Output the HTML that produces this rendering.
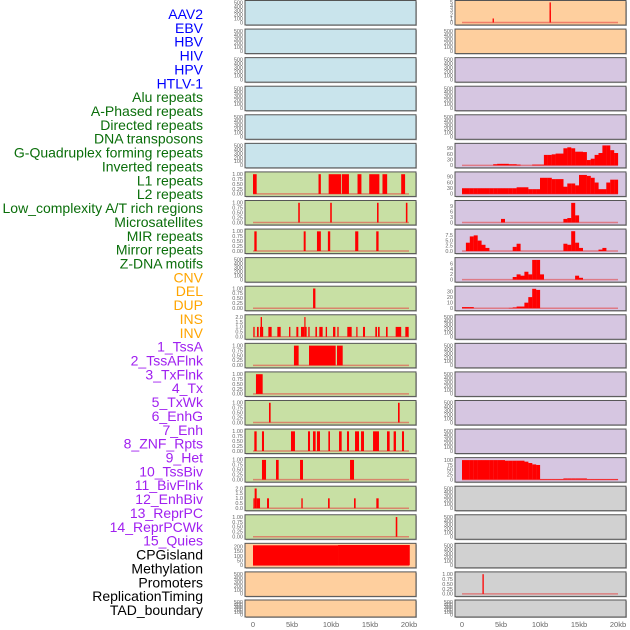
<!DOCTYPE html>
<html><head><meta charset="utf-8"><style>
html,body{margin:0;padding:0;background:#fff;}
svg{display:block;font-family:"Liberation Sans",sans-serif;}
</style></head><body>
<svg id="chart" width="630" height="630" viewBox="0 0 630 630" xmlns="http://www.w3.org/2000/svg"></svg>
<script>
// ---- labels ----
const trackLabels = ["AAV2","EBV","HBV","HIV","HPV","HTLV-1","Alu repeats","A-Phased repeats","Directed repeats","DNA transposons","G-Quadruplex forming repeats","Inverted repeats","L1 repeats","L2 repeats","Low_complexity A/T rich regions","Microsatellites","MIR repeats","Mirror repeats","Z-DNA motifs","CNV","DEL","DUP","INS","INV","1_TssA","2_TssAFlnk","3_TxFlnk","4_Tx","5_TxWk","6_EnhG","7_Enh","8_ZNF_Rpts","9_Het","10_TssBiv","11_BivFlnk","12_EnhBiv","13_ReprPC","14_ReprPCWk","15_Quies","CPGisland","Methylation","Promoters","ReplicationTiming","TAD_boundary"];
const labelGroups = [6,13,5,15,5];
const groupColors = ["#0000ff","#0a6e0a","#ffa500","#a020f0","#000000"];
// ---- panel backgrounds ----
const leftBg = ["b","b","b","b","b","b","g","g","g","g","g","g","g","g","g","g","g","g","g","p","p","p"];
const rightBg = ["p","p","l","l","l","l","l","l","l","l","l","l","l","l","l","l","l","y","y","y","y","y"];
const xTicks = [0,5,10,15,20];
const xTickLabels = ["0","5kb","10kb","15kb","20kb"];
// ---- left interval tracks [startKb,endKb,value] ----
const L6 = [[0,0.47,1],[8.4,8.7,1],[9.7,11.3,1],[11.4,12.3,1],[13.4,13.9,1],[14.9,16.2,1],[16.6,17.2,1],[19,19.5,1]];
const L7 = [[5.8,6.0,1],[9.9,10.1,1],[15.9,16.1,1],[19.6,19.8,1]];
const L8 = [[0.17,0.47,1],[6.5,6.75,1],[8.2,8.7,1],[9.6,9.9,1],[13.1,13.5,1],[15.8,16.1,1]];
const L10 = [[7.7,8.0,1]];
const L11 = [[0.04,0.21,1],[0.51,0.73,1],[0.9,0.98,1],[0.98,1.15,2],[1.15,1.2,1],[1.97,2.39,1],[3.12,3.55,1],[4.62,4.79,1],[5.56,5.81,1],[6.15,6.58,1],[6.58,6.71,2],[6.71,6.88,1],[7.09,7.26,1],[8.0,8.2,1],[8.5,8.93,1],[9.32,9.49,1],[10.26,10.56,1],[10.81,10.98,1],[12.09,12.65,1],[13.24,13.4,1],[14.1,14.36,1],[15.68,15.9,1],[16.03,16.24,1],[17.05,17.26,1],[18.29,19.0,1],[19.53,19.96,1]];
const L12 = [[5.25,5.85,1],[7.18,10.6,1],[10.77,11.5,1]];
const L13 = [[0.38,1.24,1]];
const L14 = [[2.05,2.26,1],[18.59,18.8,1]];
const L15 = [[0.17,0.47,1],[1.15,1.41,1],[4.87,5.38,1],[7.05,7.31,1],[7.69,8.03,1],[8.2,8.59,1],[9.66,9.87,1],[11.03,11.37,1],[12.05,12.31,1],[13.08,13.59,1],[13.85,14.23,1],[15.39,16.15,1],[17.18,17.52,1],[18.03,18.33,1],[19.1,19.36,1]];
const L16 = [[1.15,1.67,1],[2.95,3.29,1],[6.03,6.41,1],[12.44,12.95,1]];
const L17 = [[0.21,0.47,2],[0.05,0.21,1],[0.47,0.9,1],[1.8,2.05,1],[6.2,6.37,1],[9.62,9.83,1],[12.95,13.16,1],[15.81,16.11,1]];
const L18 = [[18.3,18.5,1]];
const L19 = [[0,10.9,215],[10.9,20.1,218]];
// ---- right histogram tracks (0.5kb bins) ----
const R5 = [0,0,0,0,0,0,0,0,6,8,8,8,6,6,4,0,0,0,4,4,4,55,55,58,62,62,90,95,90,72,72,70,28,35,55,65,105,105,80,65];
const R6 = [30,30,30,30,30,30,30,30,30,30,30,30,30,30,35,35,35,25,25,25,85,85,85,78,78,78,38,55,55,45,100,100,95,85,60,25,25,60,75,75];
const R7 = [0,0,0,0,0,0,0,0,0,0,2,0,0,0,0,0,0,0,0,0,0,0,0,0,0,0,2,2.5,11,4,0,0,0,0,0,0,0,0,0,0];
const R8 = [0,4,7,7.5,5,3,1.5,0,0,0,0,0,0,2,3.5,0,0,0,0,0,0,0,0,0,0,0,3.5,3,9.5,4,1.5,0,0,0,0,0.7,1.5,0,0,0];
const R9 = [0,0,0,0,0,0,0,0,0,0,0,0,0,1,2,1.5,3,2,7.5,7.5,2,0,0,0,0,0,0,0,0,1.5,0.7,0,0,0,0,0,0,0,0,0];
const R10 = [2,2,2,0,0,0,0,0,0,0,0,0,0.5,1.5,3,3,10,20,35,33,0,0,0,0,0,0,0,0,0,0,0,0,0,0,0,0,0,0,0,0];
const R16 = [100,100,100,100,100,100,100,100,100,100,100,97,97,97,97,97,92,85,78,75,3,3,3,3,3,3,6,6,6,6,6,6,3,3,3,3,3,3,3,3];
// spikes [kb,value]
const R0 = [[4.0,1],[11.3,5],[11.3,3]];
const R20 = [[2.7,1]];

const svg = document.getElementById('chart');
const NS = "http://www.w3.org/2000/svg";
function mk(tag, attrs, parent){
  const e = document.createElementNS(NS, tag);
  for (const k in attrs) e.setAttribute(k, attrs[k]);
  (parent||svg).appendChild(e);
  return e;
}
const bgColors = {b:"#c9e4ec", g:"#c8e0a4", p:"#fecf9e", l:"#d6c6e1", y:"#d1d1d1"};
const PL = {x0:245, x1:416, k0:253};
const PR = {x0:455, x1:626, k0:462};
const KB = 7.8;
function rowTop(i){ return i===21 ? 600 : 0.5 + i*28.57; }
function rowH(i){ return i===21 ? 17 : 24.5; }
function xs(p, kb){ return p.k0 + kb*KB; }
function ys(i, v, ymax){ const t=rowTop(i), h=rowH(i); return t+h-2.5 - v/ymax*(h-4); }

// labels
let li = 0;
labelGroups.forEach((n,g)=>{
  for (let j=0;j<n;j++){
    const t = mk('text',{x:203,y:(19+li*13.86).toFixed(1),'text-anchor':'end','font-size':'14',fill:groupColors[g]});
    t.textContent = trackLabels[li];
    
    
    li++;
  }
});

const emptyTicks = {ymax:520, ticks:[0,100,200,300,400,500], labs:["0","100","200","300","400","500"]};
const binTicks = {ymax:1.04, ticks:[0,0.25,0.5,0.75,1], labs:["0.00","0.25","0.50","0.75","1.00"]};
const cntTicks = {ymax:2.08, ticks:[0,0.5,1,1.5,2], labs:["0.0","0.5","1.0","1.5","2.0"]};

function panel(p, i, bg, sc, side){
  const t=rowTop(i), h=rowH(i);
  const g = mk('g',{});
  
  
  mk('rect',{x:p.x0+1,y:t+1,width:p.x1-p.x0,height:h,fill:'#bbb'},g);
  mk('rect',{x:p.x0,y:t,width:p.x1-p.x0,height:h,fill:bgColors[bg],stroke:'#555','stroke-width':1},g);
  sc.ticks.forEach((v,k)=>{
    const tt = mk('text',{x:p.x0-2,y:(ys(i,v,sc.ymax)+1.8).toFixed(1),'text-anchor':'end','font-size':'5.5',fill:'#666'},g);
    tt.textContent = sc.labs[k];
  });
  return g;
}
function baseline(p,i,ymax,g){
  const y = ys(i,0,ymax);
  mk('line',{x1:xs(p,0),x2:xs(p,20),y1:y,y2:y,stroke:'rgba(230,60,60,0.55)','stroke-width':1.5},g);
}
function intervals(p,i,data,sc,g){
  baseline(p,i,sc.ymax,g);
  data.forEach(d=>{
    const y=ys(i,d[2],sc.ymax), y0=ys(i,0,sc.ymax);
    const r = mk('rect',{x:xs(p,d[0]).toFixed(2),y:y.toFixed(2),width:Math.max(1.2,(d[1]-d[0])*KB).toFixed(2),height:(y0-y).toFixed(2),fill:'#ff0000'},g);
    
    
  });
}
function hist(p,i,data,sc,g){
  baseline(p,i,sc.ymax,g);
  data.forEach((v,k)=>{
    if (v<=0) return;
    const y=ys(i,v,sc.ymax), y0=ys(i,0,sc.ymax);
    const r = mk('rect',{x:xs(p,k*0.5).toFixed(2),y:y.toFixed(2),width:(0.5*KB+0.1).toFixed(2),height:(y0-y).toFixed(2),fill:'#ff0000'},g);
    
    
  });
}
function spikes(p,i,data,sc,g){
  baseline(p,i,sc.ymax,g);
  data.forEach(d=>{
    const y=ys(i,d[1],sc.ymax), y0=ys(i,0,sc.ymax);
    const r = mk('rect',{x:(xs(p,d[0])-0.6).toFixed(2),y:y.toFixed(2),width:1.3,height:(y0-y).toFixed(2),fill:'#ff0000'},g);
    
    
  });
}

const leftData = {6:[L6,binTicks],7:[L7,binTicks],8:[L8,binTicks],10:[L10,binTicks],11:[L11,cntTicks],12:[L12,binTicks],13:[L13,binTicks],14:[L14,binTicks],15:[L15,binTicks],16:[L16,binTicks],17:[L17,cntTicks],18:[L18,binTicks],
  19:[L19,{ymax:220,ticks:[0,50,100,150,200],labs:["0","50","100","150","200"]}]};
const rightData = {
  5:[R5,{ymax:108,ticks:[0,30,60,90],labs:["0","30","60","90"]}],
  6:[R6,{ymax:108,ticks:[0,30,60,90],labs:["0","30","60","90"]}],
  7:[R7,{ymax:11.5,ticks:[0,3,6,9],labs:["0","3","6","9"]}],
  8:[R8,{ymax:9.8,ticks:[0,2.5,5,7.5],labs:["0.0","2.5","5.0","7.5"]}],
  9:[R9,{ymax:7.8,ticks:[0,2,4,6],labs:["0","2","4","6"]}],
  10:[R10,{ymax:37,ticks:[0,10,20,30],labs:["0","10","20","30"]}],
  16:[R16,{ymax:105,ticks:[0,25,50,75,100],labs:["0","25","50","75","100"]}]};

for (let i=0;i<22;i++){
  const ld = leftData[i];
  const gl = panel(PL,i,leftBg[i],ld?ld[1]:emptyTicks,'left');
  if (ld) intervals(PL,i,ld[0],ld[1],gl);
  const rd = rightData[i];
  let rs = rd?rd[1]:emptyTicks;
  if (i===0) rs = {ymax:5.1,ticks:[0,1,2,3,4,5],labs:["0","1","2","3","4","5"]};
  if (i===20) rs = binTicks;
  const gr = panel(PR,i,rightBg[i],rs,'right');
  if (rd) hist(PR,i,rd[0],rs,gr);
  if (i===0) spikes(PR,i,R0,rs,gr);
  if (i===20) spikes(PR,i,R20,rs,gr);
}
// x axes
[PL,PR].forEach((p,s)=>{
  xTicks.forEach((k,j)=>{
    const t = mk('text',{x:xs(p,k),y:627,'text-anchor':'middle','font-size':'7.5',fill:'#666'});
    t.textContent = xTickLabels[j];
    
    
  });
});
</script>
</body></html>
